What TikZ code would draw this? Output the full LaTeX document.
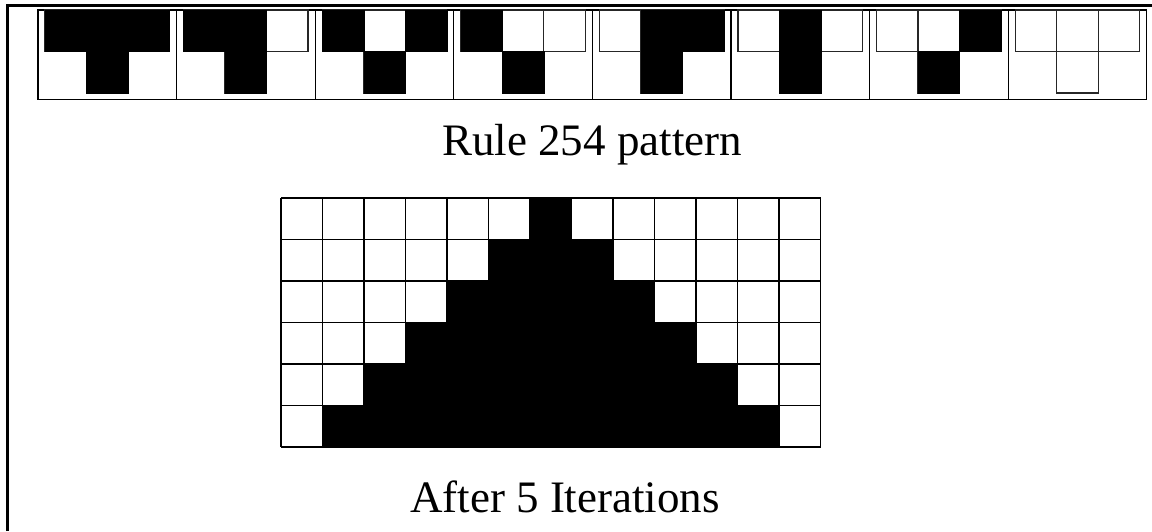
\documentclass[tikz,border=0pt]{standalone}
\usepackage{fontspec}
\setmainfont{Liberation Serif}
\begin{document}
\begin{tikzpicture}[x=1pt,y=-1pt,
  c1/.style={fill=black,draw=black,line width=0.4pt},
  c0/.style={draw=black!85,line width=1.3pt},
  gridline/.style={draw=black,line width=1.8pt},
  boxfr/.style={draw=black,line width=1.3pt},
  frameline/.style={draw=black,line width=3pt},
  lbl/.style={font=\fontsize{45}{54}\selectfont, inner sep=0pt, anchor=base}]
\useasboundingbox (0,0) rectangle (1152,531);
\draw[frameline] (7,531) -- (7,5.5) -- (1152,5.5);
% rule pattern boxes
\foreach \k/\pa/\pb/\pc/\po in {0/1/1/1/1,1/1/1/0/1,2/1/0/1/1,3/1/0/0/1,4/0/1/1/1,5/0/1/0/1,6/0/0/1/1,7/0/0/0/0} {
  \pgfmathsetmacro\bx{38+138.6*\k}
  \pgfmathsetmacro\xa{\bx+7}
  \pgfmathsetmacro\xb{\bx+48.5}
  \pgfmathsetmacro\xc{\bx+90}
  \pgfmathsetmacro\xd{\bx+131.5}
  \pgfmathsetmacro\xe{\bx+138.6}
  \draw[boxfr] (\bx,10) rectangle (\xe,99.5);
  \draw[c0] (\xa,10) rectangle (\xb,51.5);
  \draw[c0] (\xb,10) rectangle (\xc,51.5);
  \draw[c0] (\xc,10) rectangle (\xd,51.5);
  \draw[c0] (\xb,51.5) rectangle (\xc,93);
  \ifnum\pa=1 \draw[c1] (\xa,10) rectangle (\xb,51.5); \fi
  \ifnum\pb=1 \draw[c1] (\xb,10) rectangle (\xc,51.5); \fi
  \ifnum\pc=1 \draw[c1] (\xc,10) rectangle (\xd,51.5); \fi
  \ifnum\po=1 \draw[c1] (\xb,51.5) rectangle (\xc,93); \fi
}
\node[lbl] (title1) at (592,155) {Rule 254 pattern};
% iteration grid
\foreach \r in {0,...,6} {
  \pgfmathsetmacro\gy{198+41.5*\r}
  \draw[gridline] (281,\gy) -- (820.5,\gy);
}
\foreach \c in {0,...,13} {
  \pgfmathsetmacro\gx{281+41.5*\c}
  \draw[gridline] (\gx,198) -- (\gx,447);
}
\foreach \r in {0,...,5} {
  \foreach \c in {0,...,12} {
    \pgfmathtruncatemacro\v{abs(\c-6)<=\r}
    \ifnum\v=1
      \pgfmathsetmacro\gx{281+41.5*\c}
      \pgfmathsetmacro\gy{198+41.5*\r}
      \pgfmathsetmacro\hx{\gx+41.5}
      \pgfmathsetmacro\hy{\gy+41.5}
      \draw[c1] (\gx,\gy) rectangle (\hx,\hy);
    \fi
  }
}
\node[lbl] (title2) at (565,512) {After 5 Iterations};
\end{tikzpicture}
\end{document}
